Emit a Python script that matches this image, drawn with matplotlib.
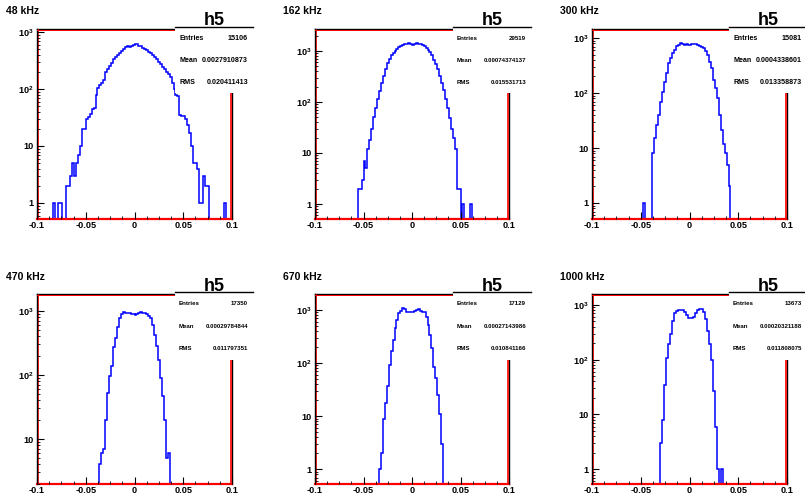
import numpy as np
import matplotlib
matplotlib.use("Agg")
import matplotlib.pyplot as plt
from matplotlib.patches import Rectangle
from matplotlib.lines import Line2D
from matplotlib.ticker import FixedLocator, FixedFormatter, MultipleLocator, LogLocator, NullFormatter
from matplotlib.transforms import offset_copy

plt.rcParams['font.family'] = ['Liberation Sans', 'DejaVu Sans']
plt.rcParams['font.weight'] = 'bold'
plt.rcParams['mathtext.fontset'] = 'custom'
plt.rcParams['mathtext.rm'] = 'Liberation Sans:bold'
plt.rcParams['mathtext.bf'] = 'Liberation Sans:bold'
plt.rcParams['mathtext.it'] = 'Liberation Sans:bold'

# ---------------- data ----------------
titles = ["48 kHz", "162 kHz", "300 kHz", "470 kHz", "670 kHz", "1000 kHz"]
hist_name = "h5"
entries = ["15106", "29519", "15081", "17350", "17129", "13673"]
means = ["0.0027910873", "0.00074374137", "0.0004338601",
         "0.00029784844", "0.00027143986", "0.00020321188"]
rmss = ["0.020411413", "0.015531713", "0.013358873",
        "0.011797351", "0.010841166", "0.011808075"]

n_bins = 100
x_min, x_max = -0.1, 0.1

# counts per bin, starting at the given bin index
h48_start = 8
h48_counts = [1, 0, 0, 1, 1, 0, 0, 2, 2, 3, 5, 3, 5, 7, 10, 20, 20, 30, 32, 37, 45, 47,
              78, 103, 117, 129, 144, 200, 221, 253, 282, 332, 369, 395, 434, 468, 501,
              556, 580, 540, 580, 600, 620, 615, 575, 575, 530, 500, 490, 450, 430, 400,
              370, 330, 300, 270, 245, 225, 200, 180, 160, 130, 100, 80, 75, 35, 33, 33,
              30, 23, 17, 10, 5, 5, 4, 1, 1, 3, 2, 2, 0, 0, 0, 0, 0, 0, 0, 0, 1]
h162_start = 22
h162_counts = [2, 2, 3, 7, 5, 12, 18, 30, 50, 75, 115, 165, 240, 330, 450, 575, 700, 820,
               900, 1000, 1100, 1200, 1280, 1330, 1370, 1400, 1410, 1380, 1330, 1400, 1420,
               1400, 1370, 1320, 1250, 1150, 1050, 950, 820, 680, 560, 440, 330, 240, 170,
               115, 75, 48, 30, 20, 12, 2, 2, 0, 1, 0, 0, 0, 1]
h300_start = 26
h300_counts = [1, 0, 0, 0, 0, 8, 15, 26, 40, 70, 105, 160, 230, 350, 430, 530, 610, 715,
               760, 800, 790, 760, 770, 760, 740, 770, 780, 770, 750, 730, 700, 660, 590,
               490, 370, 280, 175, 123, 80, 40, 21, 12, 8, 5, 2]
h470_start = 32
h470_counts = [4, 6, 7, 20, 52, 98, 138, 270, 385, 565, 790, 890, 950, 940, 930, 920, 910,
               900, 880, 890, 930, 950, 940, 930, 890, 850, 790, 600, 420, 280, 170, 90,
               47, 20, 5, 6]
h670_start = 33
h670_counts = [1, 2, 9, 18, 37, 92, 170, 270, 450, 650, 865, 970, 1070, 1030, 930, 930,
               920, 910, 940, 1000, 1045, 970, 930, 930, 730, 520, 340, 190, 83, 52, 25,
               11, 3]
h1000_start = 35
h1000_counts = [3, 8, 34, 107, 190, 295, 500, 705, 790, 810, 810, 810, 755, 655, 570, 570,
                570, 610, 705, 810, 845, 840, 755, 550, 340, 195, 100, 27, 6, 1, 0, 1]

starts = [h48_start, h162_start, h300_start, h470_start, h670_start, h1000_start]
hists = [h48_counts, h162_counts, h300_counts, h470_counts, h670_counts, h1000_counts]

x_ticks = [-0.1, -0.05, 0, 0.05, 0.1]
x_tick_labels = ["-0.1", "-0.05", "0", "0.05", "0.1"]
y_ticks = [1, 10, 100, 1000]
y_tick_labels = ["1", "10", r"$10^{2}$", r"$10^{3}$"]

# ---------------- layout (pixels) ----------------
W, H = 805, 494
col_left = [37, 315, 592]
col_right = [232, 509, 787]
row_top = [29, 294]
row_bottom = [219, 484]
ylog_lims = [(-0.281, 3.053), (-0.294, 3.431), (-0.291, 3.164),
             (0.297, 3.266), (-0.277, 3.30), (-0.27, 3.20)]
box_left = [175, 453, 729]
box_w = 78
box_line_y = [26.7, 292.3]
box_bottom = [93.3, 359.5]
title_x = [6, 283, 560]
title_y = [11, 277]
stat_dy = [11.5, 33.8, 55.8]
stat_fs = [5.15, 4.4, 5.15, 4.4, 4.4, 4.4]


def fx(px):
    return px / W


def fy(py):
    return 1 - py / H


fig = plt.figure(figsize=(W / 100, H / 100), dpi=100)
fig.patch.set_facecolor('white')

edges = np.linspace(x_min, x_max, n_bins + 1)

for k in range(6):
    r, c = divmod(k, 3)
    L, R = col_left[c], col_right[c]
    T, B = row_top[r], row_bottom[r]
    ax = fig.add_axes([fx(L), fy(B), (R - L) / W, (B - T) / H])
    counts = np.zeros(n_bins)
    counts[starts[k]:starts[k] + len(hists[k])] = hists[k]
    plotted = np.where(counts > 0, counts, 1e-3)
    ax.stairs(plotted, edges, color='#0000ff', lw=1.1, baseline=None, zorder=1)
    ax.set_yscale('log')
    ax.set_xlim(x_min, x_max)
    ax.set_ylim(10 ** ylog_lims[k][0], 10 ** ylog_lims[k][1])

    ax.xaxis.set_major_locator(FixedLocator(x_ticks))
    ax.xaxis.set_major_formatter(FixedFormatter(x_tick_labels))
    ax.xaxis.set_minor_locator(MultipleLocator(0.0125))
    ax.yaxis.set_major_locator(FixedLocator(y_ticks))
    ax.yaxis.set_major_formatter(FixedFormatter(y_tick_labels))
    ax.yaxis.set_minor_locator(LogLocator(base=10, subs=np.arange(2, 10)))
    ax.yaxis.set_minor_formatter(NullFormatter())

    ax.tick_params(which='major', direction='in', length=5, width=0.8,
                   labelsize=6.6, top=False, right=False)
    ax.tick_params(which='minor', direction='in', length=2.5, width=0.6,
                   top=False, right=False)
    ax.tick_params(axis='x', which='major', pad=1.2)
    ax.tick_params(axis='y', which='major', pad=2.5)
    for lab in ax.get_xticklabels() + ax.get_yticklabels():
        lab.set_fontweight('bold')
    ax.xaxis.set_zorder(4)
    ax.yaxis.set_zorder(4)

    ax.spines['bottom'].set_color('#ff0000')
    ax.spines['bottom'].set_linewidth(1.6)
    for s in ['top', 'right', 'left']:
        ax.spines[s].set_color('black')
        ax.spines[s].set_linewidth(1.0)

    # inner red lines of the frame
    tr_top = offset_copy(ax.transAxes, fig, x=0, y=-1.0, units='dots')
    ax.add_line(Line2D([0, 1], [1, 1], transform=tr_top, color='#ff0000', lw=0.7,
                       clip_on=False, zorder=3))
    tr_left = offset_copy(ax.transAxes, fig, x=0.8, y=0, units='dots')
    ax.add_line(Line2D([0, 0], [0, 1], transform=tr_left, color='#e00000', lw=0.6,
                       clip_on=False, zorder=3))
    tr_right = offset_copy(ax.transAxes, fig, x=-1.2, y=0, units='dots')
    ax.add_line(Line2D([1, 1], [0, 1], transform=tr_right, color='#ff0000', lw=1.2,
                       clip_on=False, zorder=3))

    # title
    fig.text(fx(title_x[c]), fy(title_y[r]), titles[k], fontsize=7.5,
             fontweight='bold', ha='left', va='center')

    # stats box
    bl = box_left[c]
    ly = box_line_y[r]
    bb = box_bottom[r]
    fig.add_artist(Rectangle((fx(bl), fy(bb)), box_w / W, (bb - ly) / H,
                             transform=fig.transFigure, facecolor='white',
                             edgecolor='none', zorder=5))
    fig.add_artist(Line2D([fx(bl), fx(bl + box_w)], [fy(ly), fy(ly)],
                          transform=fig.transFigure, color='black', lw=1.0, zorder=6))
    fig.text(fx(bl + box_w / 2), fy(ly - 1.8), hist_name, fontsize=13, fontweight='bold',
             ha='center', va='baseline', zorder=6)
    labels = ["Entries", "Mean", "RMS"]
    values = [entries[k], means[k], rmss[k]]
    for j in range(3):
        yy = fy(ly + stat_dy[j])
        fig.text(fx(bl + 4), yy, labels[j], fontsize=stat_fs[k], fontweight='bold',
                 ha='left', va='center', zorder=6)
        fig.text(fx(bl + box_w - 5), yy, values[j], fontsize=stat_fs[k],
                 fontweight='bold', ha='right', va='center', zorder=6)

fig.savefig('out.png', dpi=100)
